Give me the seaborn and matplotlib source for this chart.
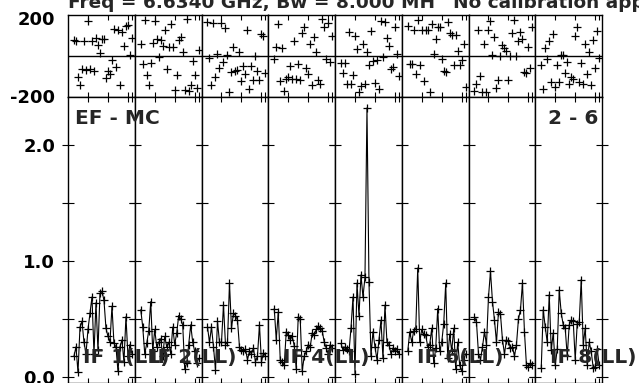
import matplotlib
matplotlib.use('Agg')
import matplotlib.pyplot as plt
import matplotlib.transforms as mtransforms
import pandas as pd
import seaborn as sns

sns.set_theme(style='white')
plt.rcParams['font.family'] = ['DejaVu Sans']
plt.rcParams['font.weight'] = 'bold'

channels = [3, 4, 5, 6, 7, 8, 9, 10, 11, 12, 13, 14, 15, 16, 17,
            18, 19, 20, 21, 22, 23, 24, 25, 26, 27, 28, 29, 30, 31, 32]

amp_if1 = [0.18, 0.26, 0.04, 0.43, 0.48, 0.30, 0.20, 0.41, 0.55, 0.69, 0.20, 0.64, 0.23, 0.72, 0.74,
           0.66, 0.42, 0.35, 0.30, 0.61, 0.29, 0.26, 0.05, 0.26, 0.32, 0.13, 0.52, 0.18, 0.28, 0.20]
amp_if2 = [0.58, 0.43, 0.20, 0.29, 0.40, 0.65, 0.22, 0.41, 0.26, 0.30, 0.33, 0.18, 0.35, 0.26, 0.30,
           0.20, 0.43, 0.28, 0.38, 0.53, 0.50, 0.45, 0.07, 0.12, 0.28, 0.45, 0.30, 0.22, 0.12, 0.16]
amp_if3 = [0.43, 0.30, 0.43, 0.26, 0.06, 0.48, 0.30, 0.30, 0.62, 0.28, 0.30, 0.81, 0.42, 0.55, 0.53,
           0.49, 0.26, 0.23, 0.22, 0.24, 0.15, 0.22, 0.20, 0.25, 0.13, 0.18, 0.45, 0.13, 0.21, 0.18]
amp_if4 = [0.59, 0.32, 0.56, 0.15, 0.13, 0.10, 0.39, 0.36, 0.32, 0.35, 0.27, 0.07, 0.52, 0.50, 0.05,
           0.18, 0.22, 0.28, 0.26, 0.38, 0.36, 0.41, 0.44, 0.42, 0.40, 0.30, 0.25, 0.20, 0.28, 0.25]
amp_if5 = [0.29, 0.23, 0.26, 0.24, 0.22, 0.42, 0.69, 0.03, 0.81, 0.53, 0.88, 0.69, 0.86, 2.32, 0.82,
           0.18, 0.39, 0.26, 0.15, 0.32, 0.49, 0.16, 0.62, 0.30, 0.28, 0.20, 0.25, 0.22, 0.24, 0.20]
amp_if6 = [0.22, 0.39, 0.30, 0.40, 0.41, 0.94, 0.30, 0.41, 0.37, 0.36, 0.26, 0.28, 0.42, 0.12, 0.25,
           0.59, 0.22, 0.30, 0.46, 0.81, 0.16, 0.37, 0.22, 0.42, 0.07, 0.30, 0.10, 0.05, 0.15, 0.20]
amp_if7 = [0.52, 0.47, 0.20, 0.15, 0.26, 0.39, 0.28, 0.69, 0.91, 0.65, 0.49, 0.30, 0.56, 0.54, 0.32,
           0.20, 0.32, 0.31, 0.25, 0.26, 0.18, 0.28, 0.50, 0.58, 0.81, 0.39, 0.10, 0.09, 0.12, 0.10]
amp_if8 = [0.08, 0.58, 0.43, 0.30, 0.71, 0.23, 0.38, 0.10, 0.24, 0.75, 0.55, 0.45, 0.42, 0.18, 0.45,
           0.49, 0.48, 0.15, 0.46, 0.47, 0.84, 0.28, 0.42, 0.10, 0.30, 0.22, 0.08, 0.09, 0.24, 0.10]

phase_if1 = [76, 71, -103, -140, -65, 71, -70, 169, -65, 71, -75, 88, 55, 16, 81,
             85, -107, -75, -86, -21, 131, -54, 125, -140, 117, 49, 146, 150, 6, 88]
phase_if2 = [59, -38, 174, -91, -140, -33, 65, 169, 81, -5, 76, 50, 125, -65, 42,
             154, 42, -168, -91, 76, 93, 20, -168, 179, -173, -140, -26, -91, -155, 30]
phase_if3 = [164, -10, -143, 159, -103, 8, -59, 159, -29, 138, 3, -176, -78, 42, -75,
             -70, 21, -124, -49, -86, 125, -163, -49, -119, 0, -75, -119, 109, 98, -81]
phase_if4 = [-13, 42, 154, -124, 37, -173, -114, -103, -49, -111, 71, -111, -38, -119, 114,
             141, -59, -86, 59, -140, 93, 20, -119, -135, 179, 141, -13, 160, -30, 100]
phase_if5 = [-33, -81, -33, -135, 117, -135, -91, 98, 32, -176, -146, 59, -135, 21, -43,
             120, -26, -130, -21, -163, 169, -5, 164, 88, 49, -62, -54, 141, 10, -100]
phase_if6 = [146, -38, -38, 125, -86, 174, -43, 125, -124, 125, 125, -176, 154, 8, 81,
             141, 141, -13, -75, -78, 166, 114, 104, -43, 104, 26, -43, -20, 60, -150]
phase_if7 = [-173, -135, 125, -98, -176, 59, -176, 125, 169, 3, 93, -155, -119, 0, 54,
             37, 26, -119, 0, 114, 174, 0, 71, 117, 81, -78, -81, 42, -60, 140]
phase_if8 = [-43, -163, 37, -13, 71, -127, 109, -151, -43, -127, 3, 3, -81, -29, -135,
             -103, -114, 98, 141, -127, -33, -135, 60, -90, 20, -140, 80, -60, 120, -10]

if_names = ['IF 1(LL)', 'IF 2(LL)', 'IF 3(LL)', 'IF 4(LL)',
            'IF 5(LL)', 'IF 6(LL)', 'IF 7(LL)', 'IF 8(LL)']
labelled_ifs = [1, 2, 4, 6, 8]

amp_ticks = [0.0, 0.5, 1.0, 1.5, 2.0]
amp_tick_labels = ['0.0', '', '1.0', '', '2.0']
phase_ticks = [-200, 200]
phase_tick_labels = ['-200', '200']
chan_ticks = [10, 20, 30, 32]

amps = [amp_if1, amp_if2, amp_if3, amp_if4, amp_if5, amp_if6, amp_if7, amp_if8]
phases = [phase_if1, phase_if2, phase_if3, phase_if4, phase_if5, phase_if6, phase_if7, phase_if8]

rows = []
for k in range(8):
    for ch, a, p in zip(channels, amps[k], phases[k]):
        rows.append({'IF': k + 1, 'channel': ch, 'amp': a, 'phase': p})
df = pd.DataFrame(rows)

W, H = 639, 383
fig = plt.figure(figsize=(W / 100, H / 100), dpi=100)
fig.patch.set_facecolor('white')

x0 = 68
pw = 66.75

for k in range(8):
    sub = df[df['IF'] == k + 1]
    left = (x0 + k * pw) / W
    axp = fig.add_axes([left, (H - 97) / H, pw / W, 82 / H])
    axa = fig.add_axes([left, 0.0, pw / W, 286 / H])

    sns.scatterplot(data=sub, x='channel', y='phase', marker='+', s=34,
                    color='black', linewidth=0.9, ax=axp, legend=False)
    axp.axhline(0, color='black', lw=1)
    axp.set_xlim(0, 33.4)
    axp.set_ylim(-200, 200)

    sns.lineplot(data=sub, x='channel', y='amp', color='black', lw=0.8,
                 marker='+', markersize=6, markeredgewidth=0.9,
                 markeredgecolor='black', estimator=None, sort=False,
                 ax=axa, legend=False)
    axa.set_xlim(0, 33.4)
    axa.set_ylim(-6 / 116, 280 / 116)

    for ax in (axp, axa):
        ax.set_facecolor('white')
        ax.set_xlabel('')
        ax.set_ylabel('')
        ax.set_xticks(chan_ticks)
        ax.set_xticklabels([])
        ax.tick_params(axis='x', direction='in', length=3.6, width=0.8,
                       top=True, bottom=True, colors='black')
        for s in ax.spines.values():
            s.set_color('black')
            s.set_linewidth(1)

    axa.set_yticks(amp_ticks)
    axa.tick_params(axis='y', direction='inout', length=8.6, width=0.8,
                    left=True, right=True, colors='black', pad=5)
    axp.set_yticks(phase_ticks)
    axp.tick_params(axis='y', length=0, pad=9.4, colors='black')
    if k == 0:
        axa.set_yticklabels(amp_tick_labels, fontsize=13, fontweight='bold')
        axp.set_yticklabels(phase_tick_labels, fontsize=13, fontweight='bold')
        shifts = [1, -3]
        for lab, dy in zip(axp.get_yticklabels(), shifts):
            lab.set_transform(lab.get_transform() +
                              mtransforms.ScaledTranslation(0, dy / 100, fig.dpi_scale_trans))
    else:
        axa.set_yticklabels([])
        axp.set_yticklabels([])

fig.text(68 / W, 1 - 8 / H, 'Freq = 6.6340 GHz, Bw = 8.000 MH', fontsize=13.3,
         fontweight='bold', ha='left', va='baseline')
fig.text(453 / W, 1 - 8 / H, 'No calibration applied', fontsize=13.3,
         fontweight='bold', ha='left', va='baseline')
fig.text(75 / W, 1 - 124 / H, 'EF - MC', fontsize=14.5, fontweight='bold',
         ha='left', va='baseline')
fig.text(598 / W, 1 - 124 / H, '2 - 6', fontsize=14.5, fontweight='bold',
         ha='right', va='baseline')
for k in labelled_ifs:
    fig.text((83 + (k - 1) * pw) / W, 1 - 363 / H, if_names[k - 1], fontsize=14.5,
             fontweight='bold', ha='left', va='baseline')

fig.savefig('out.png', dpi=100, facecolor='white')
